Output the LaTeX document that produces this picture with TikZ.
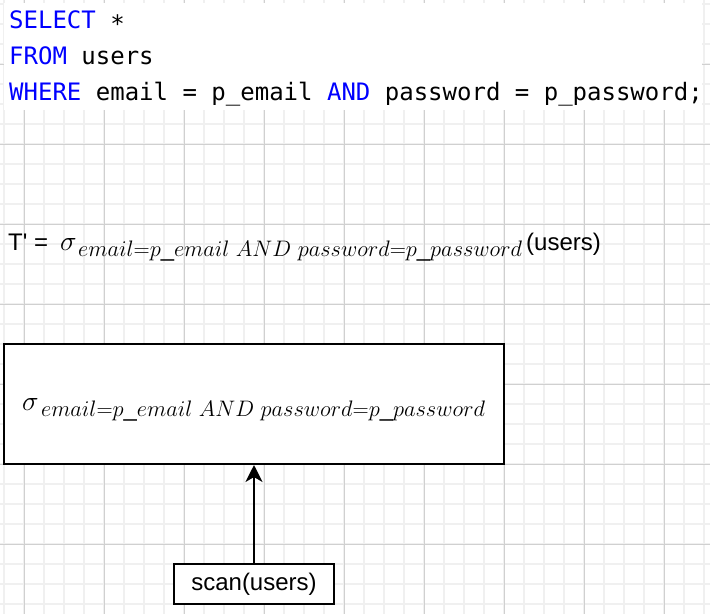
\documentclass[tikz,border=0pt]{standalone}
\usepackage[no-math]{fontspec}
\setmainfont{Liberation Sans}
\newfontfamily\codefont{DejaVu Sans Mono}
\usepackage{graphicx}
\usetikzlibrary{arrows.meta}
\definecolor{kw}{RGB}{0,0,255}
\definecolor{gridminor}{RGB}{240,240,240}
\definecolor{gridmajor}{RGB}{208,208,208}
\tikzset{
  minorline/.style={draw=gridminor, line width=1.6pt},
  majorline/.style={draw=gridmajor, line width=1pt},
  txt/.style={anchor=base west, inner sep=0pt, font=\fontsize{24}{28}\selectfont},
  code/.style={anchor=base west, inner sep=0pt, font=\codefont\fontsize{24}{36}\selectfont},
  opbox/.style={draw=black, line width=2pt, fill=white, inner sep=0pt},
  flow/.style={draw=black, line width=2pt, -{Stealth[length=17pt,width=17pt,inset=5pt]}}
}
\newcommand{\sigsym}{\scalebox{1.12}{$\sigma$}}
\newcommand{\subcond}{\resizebox{444pt}{!}{\fontsize{22}{26}\selectfont$email{=}p\_email\ AND\ password{=}p\_password$}}
\begin{document}
\begin{tikzpicture}[x=1pt,y=-1pt]
\useasboundingbox (0,0) rectangle (710,614);
\fill[white] (0,0) rectangle (710,614);
% grid
\foreach \i in {0,...,35} \draw[minorline] (4+20*\i,0) -- (4+20*\i,614);
\foreach \i in {0,...,30} \draw[minorline] (0,4+20*\i) -- (710,4+20*\i);
\foreach \i in {0,...,8} \draw[majorline] (24+80*\i,0) -- (24+80*\i,614);
\foreach \i in {0,...,6} \draw[majorline] (0,64+80*\i) -- (710,64+80*\i);
% code block
\fill[white] (4,3) rectangle (702,110);
\node[code] (l1) at (9,28) {\textcolor{kw}{SELECT} \raisebox{-4.5pt}{*}};
\node[code] (l2) at (9,64) {\textcolor{kw}{FROM} users};
\node[code] (l3) at (9,100) {\textcolor{kw}{WHERE} email = p\_email \textcolor{kw}{AND} password = p\_password;};
% relational algebra line
\node[txt] (tp) at (8,250) {T\textquotesingle\ =};
\node[txt] (sig1) at (60,250) {\sigsym};
\node[txt] (sub1) at (78,256.7) {\subcond};
\node[txt] (usr) at (526,250) {(users)};
% operator tree
\node[opbox, minimum width=500pt, minimum height=120pt] (sel) at (254,404) {};
\node[txt] (sig2) at (22,410) {\sigsym};
\node[txt] (sub2) at (40.9,416.7) {\subcond};
\node[opbox, minimum width=160pt, minimum height=40pt, font=\fontsize{24}{28}\selectfont] (scan) at (254,584) {scan(users)};
\draw[flow] (scan.north) -- (sel.south);
\end{tikzpicture}
\end{document}
